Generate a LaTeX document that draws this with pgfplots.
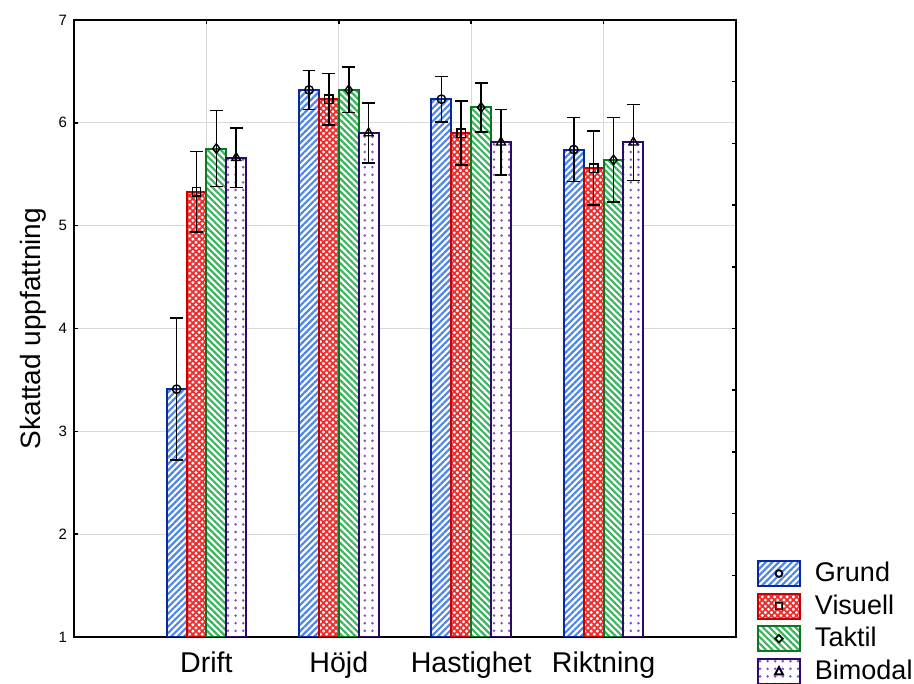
\documentclass[border=0pt]{standalone}
\usepackage{fontspec}
\setmainfont{Liberation Sans}
\usepackage{pgfplots}
\usepackage{pgfplotstable}
\pgfplotsset{compat=1.18}
\usetikzlibrary{patterns.meta}

\definecolor{grundedge}{RGB}{10,40,160}
\definecolor{grundfill}{RGB}{80,135,230}
\definecolor{visedge}{RGB}{200,0,0}
\definecolor{visfill}{RGB}{235,45,45}
\definecolor{takedge}{RGB}{10,120,30}
\definecolor{takfill}{RGB}{60,180,95}
\definecolor{bimedge}{RGB}{45,10,105}
\definecolor{bimfill}{RGB}{130,80,195}
\definecolor{gridgray}{RGB}{217,217,217}

% mean and confidence half-width per condition (x = category index)
\pgfplotstableread{
x y e
1 3.41 0.69
2 6.32 0.19
3 6.23 0.22
4 5.74 0.31
}\grund
\pgfplotstableread{
x y e
1 5.33 0.39
2 6.23 0.25
3 5.90 0.31
4 5.56 0.36
}\visuell
\pgfplotstableread{
x y e
1 5.75 0.37
2 6.32 0.22
3 6.15 0.24
4 5.64 0.41
}\taktil
\pgfplotstableread{
x y e
1 5.66 0.29
2 5.90 0.29
3 5.81 0.32
4 5.81 0.37
}\bimodal

\tikzset{
  grundbar/.style={draw=grundedge, line width=1pt, preaction={fill=white},
    pattern={Lines[angle=45,distance=2.3pt,line width=1.1pt]}, pattern color=grundfill},
  visbar/.style={draw=visedge, line width=1pt, preaction={fill=white},
    pattern={Hatch[angle=45,distance=2.2pt,line width=0.9pt]}, pattern color=visfill},
  takbar/.style={draw=takedge, line width=1pt, preaction={fill=white},
    pattern={Lines[angle=-45,distance=2.3pt,line width=1.1pt]}, pattern color=takfill},
  bimbar/.style={draw=bimedge, line width=1pt, preaction={fill=white},
    pattern={Dots[distance=3.8pt,radius=0.7pt]}, pattern color=bimfill},
  legmark/.style={draw=black, fill=none, line width=0.6pt},
}

\begin{document}
\begin{tikzpicture}
\begin{axis}[
  at={(0,0)}, anchor=south west,
  scale only axis, width=331pt, height=308.5pt,
  xmin=0, xmax=5, ymin=1, ymax=7,
  xtick={1,2,3,4},
  xticklabels={Drift, Höjd, Hastighet, Riktning},
  ytick={1,2,3,4,5,6,7},
  xtick pos=both, xticklabel pos=lower,
  ytick pos=left,
  tick align=inside,
  major tick length=2.2pt,
  tick style={black, line width=0.75pt},
  axis line style={black, line width=1pt},
  grid=major,
  major grid style={gridgray, line width=0.5pt},
  /pgf/number format/assume math mode=true,
  yticklabel style={font=\fontsize{7.5}{9}\selectfont},
  xticklabel style={font=\fontsize{14.3}{16}\selectfont, yshift=-4pt},
  ylabel={Skattad uppfattning},
  every axis y label/.style={at={(axis description cs:-0.062,0.5)}, rotate=90, anchor=center,
    font=\fontsize{14}{16}\selectfont},
  legend style={draw=none, fill=none, inner sep=0pt, outer sep=0pt,
    at={(axis description cs:1.0317,0.1248)}, anchor=north west,
    font=\fontsize{13.5}{15}\selectfont,
    row sep=2.8pt,
    nodes={inner sep=0pt, anchor=west},
    /tikz/every odd column/.append style={column sep=7pt}},
  legend cell align=left,
]
\addplot[ybar, bar width=0.15, bar shift=-0.225, grundbar,
  legend image code/.code={
    \draw[grundbar] (0pt,-6.25pt) rectangle (21pt,6.25pt);
    \path[legmark] (10.5pt,0pt) circle (1.7pt);}]
  table[x=x, y=y]{\grund};
\addlegendentry{Grund}
\addplot[ybar, bar width=0.15, bar shift=-0.075, visbar,
  legend image code/.code={
    \draw[visbar] (0pt,-6.25pt) rectangle (21pt,6.25pt);
    \path[legmark] (8.8pt,-1.7pt) rectangle (12.2pt,1.7pt);}]
  table[x=x, y=y]{\visuell};
\addlegendentry{Visuell}
\addplot[ybar, bar width=0.15, bar shift=0.075, takbar,
  legend image code/.code={
    \draw[takbar] (0pt,-6.25pt) rectangle (21pt,6.25pt);
    \path[legmark] (10.5pt,-1.9pt) -- (12.4pt,0pt) -- (10.5pt,1.9pt) -- (8.6pt,0pt) -- cycle;}]
  table[x=x, y=y]{\taktil};
\addlegendentry{Taktil}
\addplot[ybar, bar width=0.15, bar shift=0.225, bimbar,
  legend image code/.code={
    \draw[bimbar] (0pt,-6.25pt) rectangle (21pt,6.25pt);
    \path[legmark] (8.5pt,-1.6pt) -- (12.5pt,-1.6pt) -- (10.5pt,2.1pt) -- cycle;}]
  table[x=x, y=y]{\bimodal};
\addlegendentry{Bimodal}

% means with confidence intervals
\addplot[forget plot, only marks, black, mark=o, mark size=2.1pt,
  mark options={draw=black, fill=none, line width=0.7pt},
  error bars/.cd, y dir=both, y explicit,
  error bar style={draw=black, line width=0.8pt},
  error mark options={draw=black, rotate=90, line width=0.8pt, mark size=3.2pt}]
  table[x expr=\thisrow{x}-0.225, y=y, y error=e]{\grund};
\addplot[forget plot, only marks, black, mark=square, mark size=2.1pt,
  mark options={draw=black, fill=none, line width=0.7pt},
  error bars/.cd, y dir=both, y explicit,
  error bar style={draw=black, line width=0.8pt},
  error mark options={draw=black, rotate=90, line width=0.8pt, mark size=3.2pt}]
  table[x expr=\thisrow{x}-0.075, y=y, y error=e]{\visuell};
\addplot[forget plot, only marks, black, mark=diamond, mark size=2.4pt,
  mark options={draw=black, fill=none, line width=0.7pt},
  error bars/.cd, y dir=both, y explicit,
  error bar style={draw=black, line width=0.8pt},
  error mark options={draw=black, rotate=90, line width=0.8pt, mark size=3.2pt}]
  table[x expr=\thisrow{x}+0.075, y=y, y error=e]{\taktil};
\addplot[forget plot, only marks, black, mark=triangle, mark size=2.6pt,
  mark options={draw=black, fill=none, line width=0.7pt},
  error bars/.cd, y dir=both, y explicit,
  error bar style={draw=black, line width=0.8pt},
  error mark options={draw=black, rotate=90, line width=0.8pt, mark size=3.2pt}]
  table[x expr=\thisrow{x}+0.225, y=y, y error=e]{\bimodal};
\end{axis}

% right-hand scale ticks
\begin{axis}[
  at={(0,0)}, anchor=south west,
  scale only axis, width=331pt, height=308.5pt,
  xmin=0, xmax=5, ymin=0, ymax=10,
  axis x line=none,
  axis y line*=right,
  ytick={0,1,...,10},
  yticklabels={},
  tick align=inside,
  major tick length=2.2pt,
  tick style={black, line width=0.75pt},
  axis line style={black, line width=1pt, -},
]
\end{axis}

\pgfresetboundingbox
\path (-37pt,-23.5pt) rectangle (420pt,318.5pt);
\end{tikzpicture}
\end{document}
